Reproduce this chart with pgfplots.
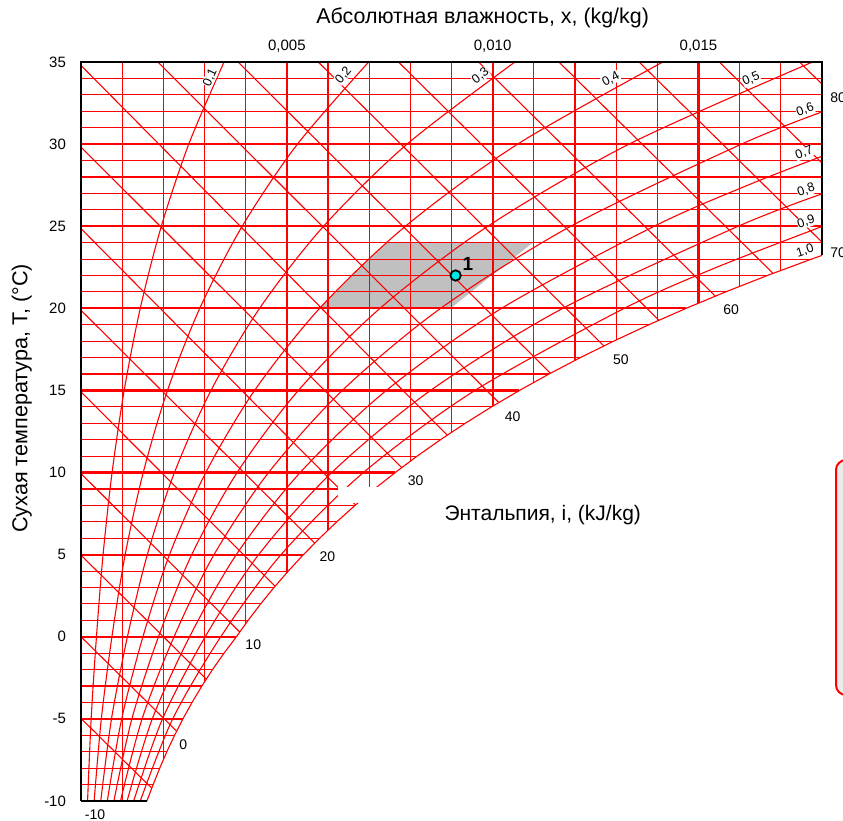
\documentclass[border=0pt]{standalone}
\usepackage{pgfplots}
\pgfplotsset{compat=1.18}
\usepackage{fontspec}
\setmainfont{Liberation Sans}
\definecolor{zone}{RGB}{192,192,192}
\definecolor{ptfill}{RGB}{0,230,230}
\definecolor{legfill}{RGB}{235,235,235}
\definecolor{gridred}{RGB}{255,0,0}
\pgfplotsset{
  thinr/.style={draw=gridred, color=gridred, line width=0.55pt, mark=none},
  thickr/.style={draw=gridred, color=gridred, line width=1.1pt, mark=none},
  bord/.style={draw=black, color=black, line width=1.1pt, mark=none},
}
\begin{document}
\begin{tikzpicture}
\useasboundingbox (-40.5pt,-10pt) rectangle (381pt,400.5pt);
\begin{axis}[
  at={(0pt,0pt)}, anchor=south west,
  scale only axis, width=370.5pt, height=369.5pt,
  xmin=0, xmax=0.018, ymin=-10, ymax=35,
  clip=false,
  axis line style={draw=none},
  major tick length=0pt,
  scaled x ticks=false,
  xtick={0.005,0.010,0.015},
  xticklabels={{0,005},{0,010},{0,015}},
  xticklabel pos=top,
  ytick={-10,-5,0,5,10,15,20,25,30,35},
  /pgf/number format/assume math mode=true,
  ticklabel style={font=\fontsize{7.5}{9}\selectfont},
  yticklabel style={xshift=-4pt},
  xticklabel style={inner sep=0.5pt, yshift=4.3pt},
]
% comfort zone
\addplot[fill=zone, draw=none] coordinates {(0.0057974,20) (0.006170,21) (0.006564,22) (0.006980,23) (0.007419,24) (0.010973,24) (0.008978,20)} -- cycle;
% horizontal thin lines
\addplot[thinr] coordinates {(0,-9) (0.001753,-9)};
\addplot[thinr] coordinates {(0,-8) (0.001912,-8)};
\addplot[thinr] coordinates {(0,-7) (0.002085,-7)};
\addplot[thinr] coordinates {(0,-6) (0.002273,-6)};
\addplot[thinr] coordinates {(0,-4) (0.002697,-4)};
\addplot[thinr] coordinates {(0,-3) (0.002936,-3)};
\addplot[thinr] coordinates {(0,-2) (0.003194,-2)};
\addplot[thinr] coordinates {(0,-1) (0.003474,-1)};
\addplot[thinr] coordinates {(0,1) (0.004060,1)};
\addplot[thinr] coordinates {(0,2) (0.004364,2)};
\addplot[thinr] coordinates {(0,3) (0.004689,3)};
\addplot[thinr] coordinates {(0,4) (0.005034,4)};
\addplot[thinr] coordinates {(0,6) (0.005796,6)};
\addplot[thinr] coordinates {(0,7) (0.006213,7)};
\addplot[thinr] coordinates {(0,8) (0.006657,8)};
\addplot[thinr] coordinates {(0,9) (0.007129,9)};
\addplot[thinr] coordinates {(0,11) (0.008165,11)};
\addplot[thinr] coordinates {(0,12) (0.008732,12)};
\addplot[thinr] coordinates {(0,13) (0.009334,13)};
\addplot[thinr] coordinates {(0,14) (0.009973,14)};
\addplot[thinr] coordinates {(0,16) (0.011369,16)};
\addplot[thinr] coordinates {(0,17) (0.012131,17)};
\addplot[thinr] coordinates {(0,18) (0.012938,18)};
\addplot[thinr] coordinates {(0,19) (0.013793,19)};
\addplot[thinr] coordinates {(0,21) (0.015658,21)};
\addplot[thinr] coordinates {(0,22) (0.016673,22)};
\addplot[thinr] coordinates {(0,23) (0.017748,23)};
\addplot[thinr] coordinates {(0,24) (0.018,24)};
\addplot[thinr] coordinates {(0,26) (0.018,26)};
\addplot[thinr] coordinates {(0,27) (0.018,27)};
\addplot[thinr] coordinates {(0,28) (0.018,28)};
\addplot[thinr] coordinates {(0,29) (0.018,29)};
\addplot[thinr] coordinates {(0,31) (0.018,31)};
\addplot[thinr] coordinates {(0,32) (0.018,32)};
\addplot[thinr] coordinates {(0,33) (0.018,33)};
\addplot[thinr] coordinates {(0,34) (0.018,34)};
% horizontal thick lines
\addplot[thickr] coordinates {(0,-5) (0.002476,-5)};
\addplot[thickr] coordinates {(0,0) (0.003775,0)};
\addplot[thickr] coordinates {(0,5) (0.005403,5)};
\addplot[thickr] coordinates {(0,10) (0.007632,10)};
\addplot[thickr] coordinates {(0,15) (0.010650,15)};
\addplot[thickr] coordinates {(0,20) (0.014699,20)};
\addplot[thickr] coordinates {(0,25) (0.018,25)};
\addplot[thickr] coordinates {(0,30) (0.018,30)};
% vertical thin lines
\addplot[thinr] coordinates {(0.001,35) (0.001,-10)};
\addplot[thinr] coordinates {(0.002,35) (0.002,-7.49)};
\addplot[thinr] coordinates {(0.003,35) (0.003,-2.75)};
\addplot[thinr] coordinates {(0.004,35) (0.004,0.79)};
\addplot[thinr] coordinates {(0.006,35) (0.006,6.49)};
\addplot[thinr] coordinates {(0.007,35) (0.007,8.73)};
\addplot[thinr] coordinates {(0.008,35) (0.008,10.69)};
\addplot[thinr] coordinates {(0.009,35) (0.009,12.45)};
\addplot[thinr] coordinates {(0.011,35) (0.011,15.49)};
\addplot[thinr] coordinates {(0.012,35) (0.012,16.83)};
\addplot[thinr] coordinates {(0.013,35) (0.013,18.07)};
\addplot[thinr] coordinates {(0.014,35) (0.014,19.23)};
\addplot[thinr] coordinates {(0.016,35) (0.016,21.34)};
\addplot[thinr] coordinates {(0.017,35) (0.017,22.30)};
% vertical thick lines
\addplot[thickr] coordinates {(0.005,35) (0.005,3.90)};
\addplot[thickr] coordinates {(0.010,35) (0.010,14.04)};
\addplot[thickr] coordinates {(0.015,35) (0.015,20.31)};
% enthalpy lines
\addplot[thinr] coordinates {(0,-4.970) (0.001719,-9.22)};
\addplot[thinr] coordinates {(0,0) (0.002324,-5.75)};
\addplot[thinr] coordinates {(0,4.970) (0.003044,-2.58)};
\addplot[thinr] coordinates {(0,9.940) (0.003857,0.289)};
\addplot[thinr] coordinates {(0,14.911) (0.004715,3.074)};
\addplot[thinr] coordinates {(0,19.881) (0.005679,5.702)};
\addplot[thinr] coordinates {(0,24.851) (0.006669,8.025)};
\addplot[thinr] coordinates {(0,29.821) (0.007792,10.30)};
\addplot[thinr] coordinates {(0,34.791) (0.008897,12.274)};
\addplot[thinr] coordinates {(0.001867,35) (0.010150,14.261)};
\addplot[thinr] coordinates {(0.003815,35) (0.011403,16.044)};
\addplot[thinr] coordinates {(0.005763,35) (0.012702,17.708)};
\addplot[thinr] coordinates {(0.007712,35) (0.014039,19.271)};
\addplot[thinr] coordinates {(0.009660,35) (0.015409,20.74)};
\addplot[thinr] coordinates {(0.011609,35) (0.016812,22.129)};
\addplot[thinr] coordinates {(0.013557,35) (0.018,24.033)};
\addplot[thinr] coordinates {(0.015506,35) (0.018,28.843)};
\addplot[thinr] coordinates {(0.017454,35) (0.018,33.653)};
% relative humidity curves
\addplot[thinr, smooth] coordinates {(0.0001596,-10) (0.0002467,-5) (0.0003754,0) (0.0005361,5) (0.0007549,10) (0.0010489,15) (0.0014393,20) (0.0019519,25) (0.0026179,30) (0.0034745,35)};
\addplot[thinr, smooth] coordinates {(0.0003194,-10) (0.0004937,-5) (0.0007513,0) (0.0010732,5) (0.0015116,10) (0.0021012,15) (0.0028852,20) (0.0039160,25) (0.0052579,30) (0.0069881,35)};
\addplot[thinr, smooth] coordinates {(0.0004792,-10) (0.0007408,-5) (0.0011276,0) (0.0016111,5) (0.0022701,10) (0.0031572,15) (0.0043379,20) (0.0058926,25) (0.0079203,30) (0.0105413,35)};
\addplot[thinr, smooth] coordinates {(0.0006391,-10) (0.0009882,-5) (0.0015044,0) (0.0021500,5) (0.0030305,10) (0.0042167,15) (0.0057974,20) (0.0078817,25) (0.0106055,30) (0.0141348,35)};
\addplot[thinr, smooth] coordinates {(0.0007991,-10) (0.0012357,-5) (0.0018817,0) (0.0026899,5) (0.0037927,10) (0.0052798,15) (0.0072637,20) (0.0098835,25) (0.0133135,30) (0.0177696,35)};
\addplot[thinr, smooth] coordinates {(0.0009591,-10) (0.0014834,-5) (0.0022594,0) (0.0032307,5) (0.0045568,10) (0.0063465,15) (0.0087368,20) (0.0118980,25) (0.0160449,30) (0.018,31.96)};
\addplot[thinr, smooth] coordinates {(0.0011193,-10) (0.0017314,-5) (0.0026375,0) (0.0037724,5) (0.0053228,10) (0.0074169,15) (0.0102168,20) (0.0139254,25) (0.016199,27.5) (0.018,29.26)};
\addplot[thinr, smooth] coordinates {(0.0012795,-10) (0.0019795,-5) (0.0030161,0) (0.0043150,5) (0.0060907,10) (0.0084910,15) (0.0117038,20) (0.0159658,25) (0.018,26.97)};
\addplot[thinr, smooth] coordinates {(0.0014398,-10) (0.0022278,-5) (0.0033952,0) (0.0048586,5) (0.0068604,10) (0.0095686,15) (0.0131978,20) (0.015440,22.5) (0.018,24.98)};
% saturation curve
\addplot[thinr] coordinates {(0.001600,-10) (0.001753,-9) (0.001912,-8) (0.002085,-7) (0.002273,-6) (0.002476,-5) (0.002697,-4) (0.002936,-3) (0.003194,-2) (0.003474,-1) (0.003775,0) (0.004060,1) (0.004364,2) (0.004689,3) (0.005034,4) (0.005403,5) (0.005796,6) (0.006213,7) (0.006657,8) (0.007129,9) (0.007632,10) (0.008165,11) (0.008732,12) (0.009334,13) (0.009973,14) (0.010650,15) (0.011369,16) (0.012131,17) (0.012938,18) (0.013793,19) (0.014699,20) (0.015658,21) (0.016673,22) (0.017748,23) (0.018,23.22)};
% white gap
\fill[white] (axis cs:0.006253,8.15) rectangle (axis cs:0.0079,9.12);
% borders
\addplot[bord] coordinates {(0,-10) (0,35) (0.018,35) (0.018,23.22)};
\addplot[bord] coordinates {(0,-10) (0.0016,-10)};
% state point
\addplot[only marks, mark=*, mark size=2.6pt, mark options={fill=ptfill, draw=black, line width=0.9pt}] coordinates {(0.0091,22)};
\node[font=\bfseries\fontsize{9.5}{10}\selectfont] at (axis cs:0.009400,22.72) {1};
% RH labels
\begin{scope}[every node/.style={font=\fontsize{6.3}{7}\selectfont, fill=white, inner sep=0.2pt}]
\node[rotate=65] at (axis cs:0.003139,34.05) {0,1};
\node[rotate=50] at (axis cs:0.006375,34.20) {0,2};
\node[rotate=38] at (axis cs:0.009708,34.15) {0,3};
\node[rotate=28] at (axis cs:0.012871,33.96) {0,4};
\node[rotate=24] at (axis cs:0.016277,33.96) {0,5};
\node[rotate=20] at (axis cs:0.017591,32.08) {0,6};
\node[rotate=20] at (axis cs:0.017567,29.46) {0,7};
\node[rotate=18] at (axis cs:0.017616,27.20) {0,8};
\node[rotate=18] at (axis cs:0.017616,25.26) {0,9};
\node[rotate=18] at (axis cs:0.017591,23.49) {1,0};
\end{scope}
% enthalpy labels
\begin{scope}[every node/.style={font=\fontsize{7}{8}\selectfont}]
\node at (axis cs:0.000341,-10.86) {-10};
\node at (axis cs:0.002482,-6.60) {0};
\node at (axis cs:0.004185,-0.51) {10};
\node at (axis cs:0.005985,4.85) {20};
\node at (axis cs:0.008127,9.48) {30};
\node at (axis cs:0.010487,13.38) {40};
\node at (axis cs:0.013114,16.85) {50};
\node at (axis cs:0.015791,19.90) {60};
\node at (axis cs:0.018394,23.37) {70};
\node at (axis cs:0.018394,32.81) {80};
\end{scope}
% axis titles
\node[font=\fontsize{10.7}{12}\selectfont] at (axis cs:0.009757,37.68) {Абсолютная влажность, x, (kg/kg)};
\node[font=\fontsize{10.8}{12}\selectfont, rotate=90] at (axis cs:-0.001436,14.51) {Сухая температура, T, (°C)};
\node[font=\fontsize{10.5}{12}\selectfont] at (axis cs:0.011217,7.41) {Энтальпия, i, (kJ/kg)};
\end{axis}
% cut-off legend frame at the right edge
\draw[red, line width=1pt, fill=legfill, rounded corners=5pt] (377.5pt,53pt) rectangle (420pt,170.5pt);
\end{tikzpicture}
\end{document}
